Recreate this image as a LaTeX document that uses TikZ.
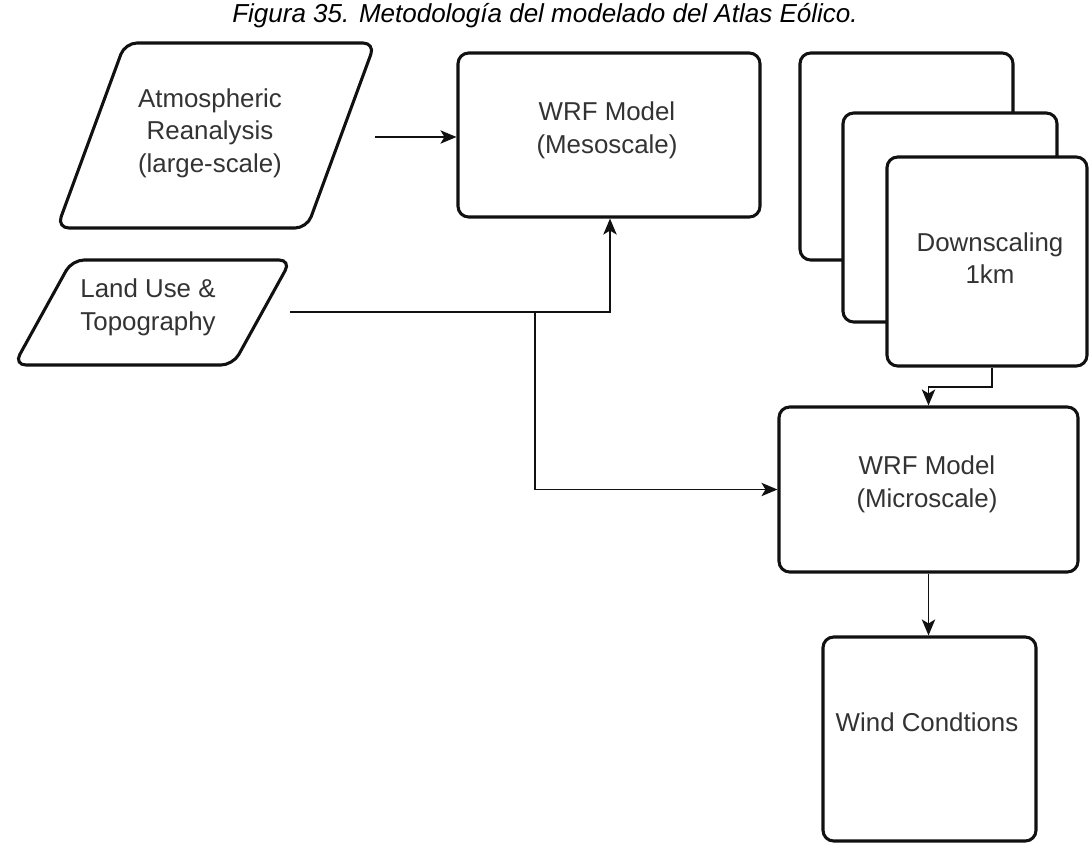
\documentclass[tikz,border=0pt]{standalone}
\usepackage{fontspec}
\setmainfont{Liberation Sans}
\usetikzlibrary{arrows.meta,fit}
\definecolor{txt}{HTML}{333333}
\definecolor{edge}{HTML}{111111}
\newcommand{\mybf}{\fontsize{19.4}{24.5}\selectfont}
\begin{document}
\begin{tikzpicture}[x=0.75pt,y=-0.75pt,
  box/.style={draw=edge, line width=2.3pt, rounded corners=8pt, fill=white, inner sep=0pt},
  para/.style={draw=edge, line width=2.3pt, rounded corners=9pt, fill=white},
  lbl/.style={align=center, text=txt, font=\mybf, inner sep=0pt},
  conn/.style={draw=edge, line width=1.3pt, -{Stealth[length=12pt,width=10pt,inset=3pt]}}]
\useasboundingbox (0,0) rectangle (1089,843);
\fill[white] (0,0) rectangle (1089,843);

% title
\node[font=\itshape\fontsize{19.5}{24}\selectfont, text=black] (title) at (545,16) {Figura 35. Metodología del modelado del Atlas Eólico.};

% input parallelograms
\draw[para] (125,43) -- (375,43) -- (307,228) -- (57,228) -- cycle;
\node[lbl] (atm) at (210,133) {Atmospheric\\Reanalysis\\(large-scale)};

\draw[para] (72,260) -- (291,260) -- (233,365) -- (14,365) -- cycle;
\node[lbl] (land) at (148,307) {Land Use \&\\Topography};

% WRF mesoscale
\node[box, fit={(458,53) (760,217)}] (meso) {};
\node[lbl] (mesot) at (607,130) {WRF Model\\(Mesoscale)};

% downscaling stack
\node[box, fit={(800,53) (1013,260)}] (back) {};
\node[box, fit={(843,113) (1057,322)}] (mid) {};
\node[box, fit={(887,157) (1087,366)}] (front) {};
\node[lbl] (frontt) at (990,258) {Downscaling\\1km};

% WRF microscale
\node[box, fit={(779,407) (1078,572)}] (micro) {};
\node[lbl] (microt) at (927,484) {WRF Model\\(Microscale)};

% wind conditions
\node[box, fit={(823,637) (1036,841)}] (wind) {};
\node[lbl] (windt) at (927,722) {Wind Condtions};

% connectors
\coordinate (a0) at (375,137);
\draw[conn] (a0) -- (meso.west |- a0);

\coordinate (l0) at (290,312);
\coordinate (k) at (610,312);
\coordinate (j) at (535,312);
\draw[conn] (l0) -- (k) -- (k |- meso.south);
\draw[conn] (j) |- (micro.west);

\coordinate (d1) at (992,387);
\draw[conn] (d1 |- front.south) -- (d1) -| (micro.north);

\draw[conn] (micro.south) -- (micro.south |- wind.north);
\end{tikzpicture}
\end{document}
